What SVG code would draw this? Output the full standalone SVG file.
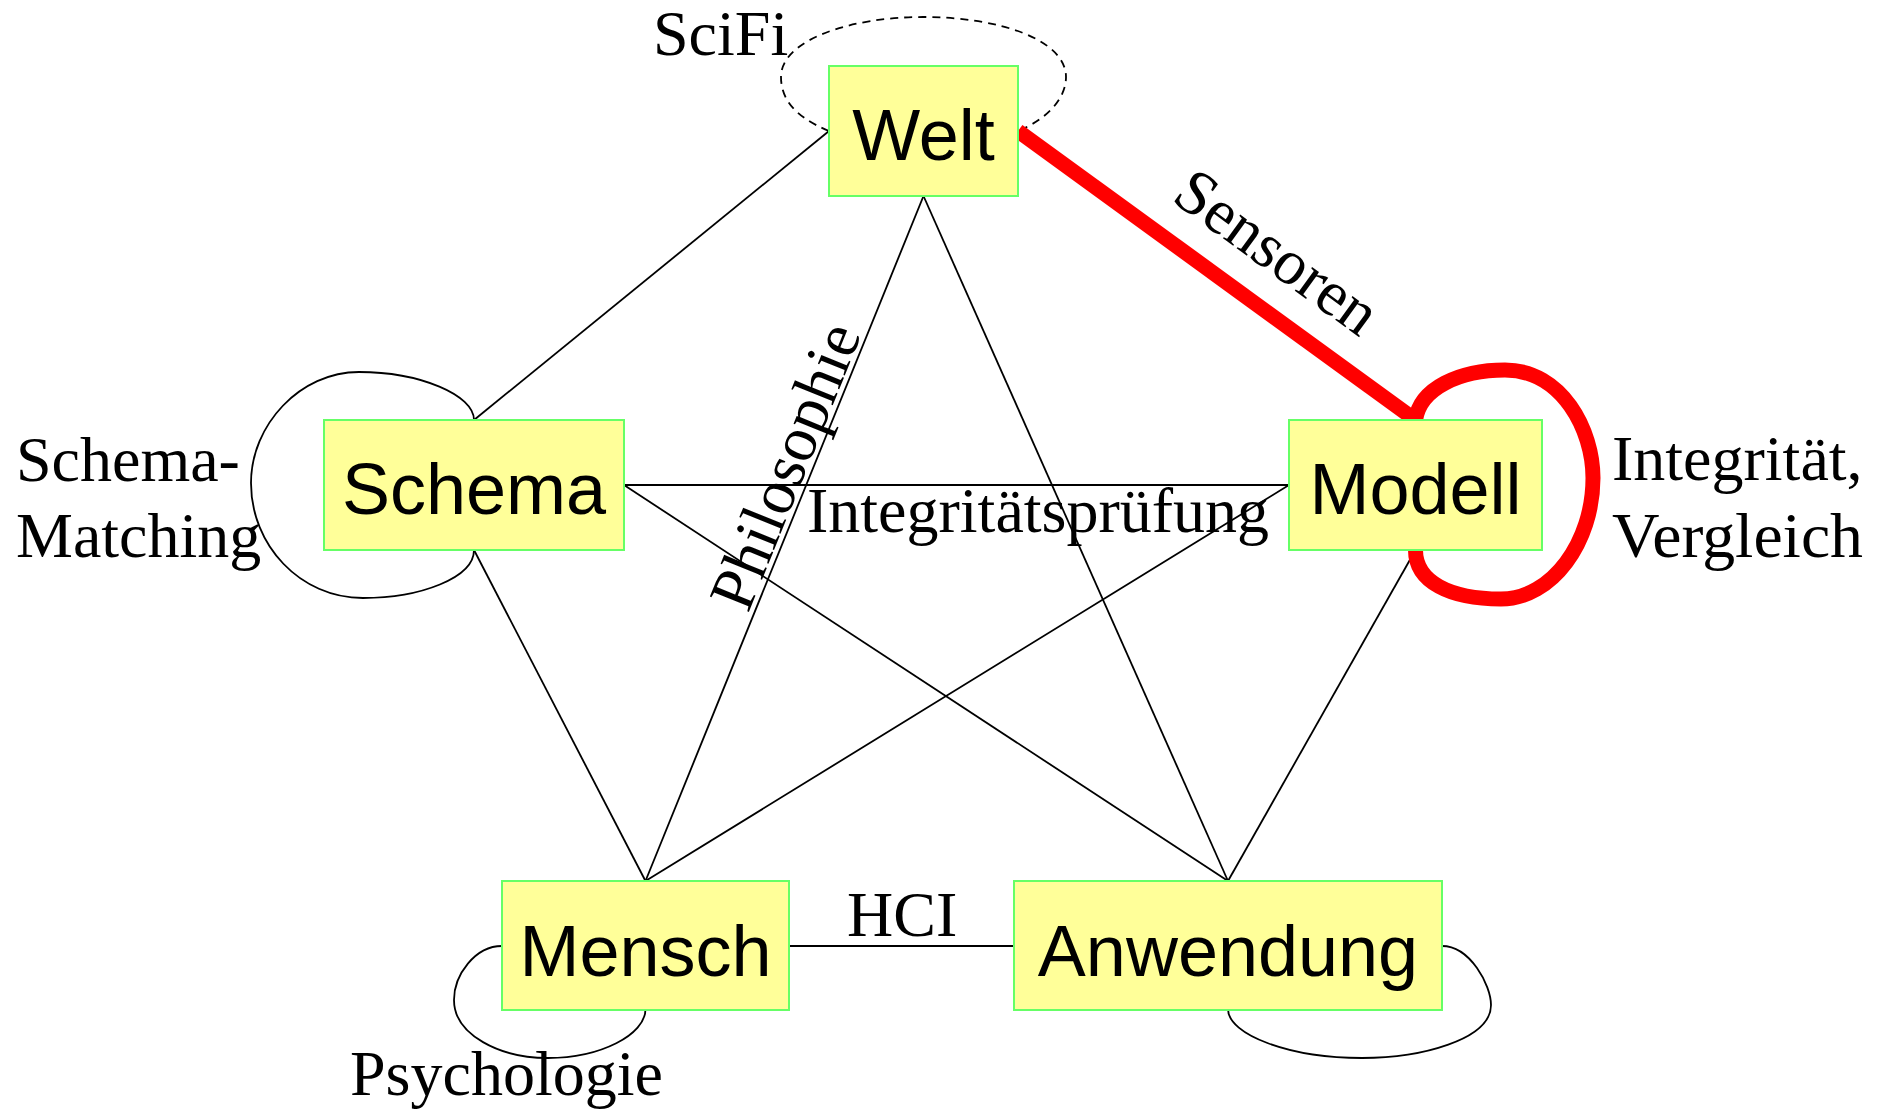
<svg xmlns="http://www.w3.org/2000/svg" width="1884" height="1110" viewBox="0 0 1884 1110">
  <style>
    .node rect { fill: #ffff99; stroke: #66ff66; stroke-width: 2; }
    .node text { font-family: "Liberation Sans", Arial, sans-serif; font-size: 72px; fill: #000; text-anchor: middle; }
    .edge { fill: none; stroke: #000; stroke-width: 1.8; }
    .dashed { stroke-dasharray: 8 6; }
    .hot { fill: none; stroke: #ff0000; stroke-width: 15; }
    .lbl { font-family: "Liberation Serif", "Times New Roman", serif; font-size: 64px; fill: #000; }
  </style>

  <rect width="1884" height="1110" fill="#ffffff"/>

  <!-- connectors and their labels -->
  <g id="connectors">
    <!-- Welt edges -->
    <line class="edge" x1="829" y1="131" x2="474" y2="420"/>
    <line class="edge" x1="923.5" y1="196" x2="645.5" y2="881"/>
    <line class="edge" x1="923.5" y1="196" x2="1228" y2="881"/>
    <!-- Schema edges -->
    <line class="edge" x1="624" y1="485" x2="1289" y2="485"/>
    <line class="edge" x1="624" y1="485" x2="1228" y2="881"/>
    <line class="edge" x1="474" y1="550" x2="645.5" y2="881"/>
    <!-- Modell edges -->
    <line class="edge" x1="1289" y1="485" x2="645.5" y2="881"/>
    <line class="edge" x1="1415.5" y1="550" x2="1228" y2="881"/>
    <!-- Mensch to Anwendung -->
    <line class="edge" x1="789" y1="946" x2="1014" y2="946"/>

    <!-- self loops -->
    <path class="edge dashed" d="M829,131 C790,115 781,95 781,77 C781,40 850,17 923,17 C1000,17 1066,40 1066,77 C1066,100 1045,120 1018,131"/>
    <path class="edge" d="M474,420 C474,395 420,372 359,372 C300,372 251,425 251,483 C251,545 300,598 363,598 C420,598 474,578 474,550"/>
    <path class="edge" d="M502,946 C475,946 454,975 454,1000 C454,1035 500,1058 548,1058 C600,1058 645.5,1035 645.5,1009"/>
    <path class="edge" d="M1442,946 C1470,946 1491,985 1491,1005 C1491,1040 1420,1058 1362,1058 C1290,1058 1228,1035 1228,1009"/>

    <!-- highlighted sensor path -->
    <line class="hot" x1="1018" y1="131" x2="1415.5" y2="420"/>
    <path class="hot" stroke-linecap="round" d="M1415.5,420 C1420,388 1460,370 1505,370 C1562,370 1593,430 1593,478 C1593,542 1552,599 1501,599 C1450,599 1415.5,582 1415.5,550"/>

    <!-- edge labels -->
    <text class="lbl" x="653" y="55">SciFi</text>
    <text class="lbl" x="1170" y="200" transform="rotate(36 1170 200)">Sensoren</text>
    <text class="lbl" x="748" y="614" transform="rotate(-67.9 748 614)">Philosophie</text>
    <text class="lbl" x="807" y="532">Integritätsprüfung</text>
    <text class="lbl" x="16" y="481">Schema-</text>
    <text class="lbl" x="16" y="557">Matching</text>
    <text class="lbl" x="1612" y="480">Integrität,</text>
    <text class="lbl" x="1612" y="557" textLength="251" lengthAdjust="spacingAndGlyphs">Vergleich</text>
    <text class="lbl" x="847" y="936">HCI</text>
    <text class="lbl" x="350" y="1095">Psychologie</text>
  </g>

  <!-- nodes -->
  <g id="welt" class="node">
    <rect x="829" y="66" width="189" height="130"/>
    <text x="923.5" y="160">Welt</text>
  </g>
  <g id="schema" class="node">
    <rect x="324" y="420" width="300" height="130"/>
    <text x="474" y="514">Schema</text>
  </g>
  <g id="modell" class="node">
    <rect x="1289" y="420" width="253" height="130"/>
    <text x="1415.5" y="514">Modell</text>
  </g>
  <g id="mensch" class="node">
    <rect x="502" y="881" width="287" height="129"/>
    <text x="645.5" y="976">Mensch</text>
  </g>
  <g id="anwendung" class="node">
    <rect x="1014" y="881" width="428" height="129"/>
    <text x="1228" y="976">Anwendung</text>
  </g>
</svg>
